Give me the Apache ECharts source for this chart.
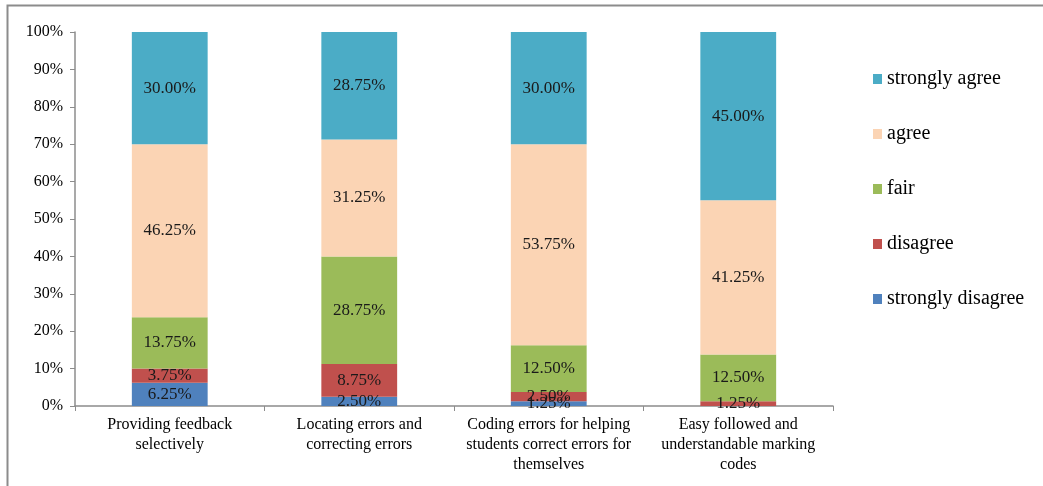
<!DOCTYPE html>
<html><head><meta charset="utf-8">
<script src="https://cdn.jsdelivr.net/npm/echarts@6/dist/echarts.min.js"></script>
<style>html,body{margin:0;padding:0;background:#fff}#c{width:1043px;height:486px}</style>
</head><body><div id="c"></div>
<script>
var categories = ['Providing feedback\nselectively','Locating errors and\ncorrecting errors','Coding errors for helping\nstudents correct errors for\nthemselves','Easy followed and\nunderstandable marking\ncodes'];
var seriesNames = ['strongly disagree','disagree','fair','agree','strongly agree'];
var stronglyDisagree = [6.25, 2.50, 1.25, 0];
var disagree = [3.75, 8.75, 2.50, 1.25];
var fair = [13.75, 28.75, 12.50, 12.50];
var agree = [46.25, 31.25, 53.75, 41.25];
var stronglyAgree = [30.00, 28.75, 30.00, 45.00];
var yTicks = [0,10,20,30,40,50,60,70,80,90,100];
var colors = ['#4F81BD','#C0504D','#9BBB59','#FBD4B4','#4BACC6'];
var values = [stronglyDisagree, disagree, fair, agree, stronglyAgree];
var font = '"Liberation Serif","Times New Roman",serif';
var chart = echarts.init(document.getElementById('c'));
var series = seriesNames.map(function(n,i){
  return {name:n,type:'bar',stack:'t',data:values[i],barWidth:'40%',
    itemStyle:{color:colors[i]},
    label:{show:true,position:'inside',color:'#1a1a1a',fontFamily:font,fontSize:17,
      formatter:function(p){return p.value>0?p.value.toFixed(2)+'%':'';}}};
});
chart.setOption({
  animation:false,
  graphic:[{type:'rect',shape:{x:7.5,y:5.5,width:1100,height:600},style:{fill:'none',stroke:'#8c8c8c',lineWidth:2},z:-1}],
  grid:{left:75,right:210,top:32,bottom:80},
  legend:{orient:'vertical',left:868,top:64,itemGap:35,itemWidth:9,itemHeight:10,icon:'rect',
    data:seriesNames.slice().reverse(),
    textStyle:{fontFamily:font,fontSize:20,color:'#000'}},
  xAxis:{type:'category',data:categories,
    axisLine:{lineStyle:{color:'#8c8c8c',width:1.5}},
    axisTick:{show:true,alignWithLabel:false,length:5,lineStyle:{color:'#8c8c8c'}},
    axisLabel:{fontFamily:font,fontSize:16,color:'#000',lineHeight:20,margin:9,interval:0}},
  yAxis:{type:'value',min:0,max:100,interval:10,
    axisLine:{show:true,lineStyle:{color:'#8c8c8c',width:1.5}},
    axisTick:{show:true,length:5,lineStyle:{color:'#8c8c8c'}},
    splitLine:{show:false},
    axisLabel:{fontFamily:font,fontSize:16,color:'#000',margin:12,
      formatter:function(v){return yTicks.indexOf(v)>=0?v+'%':'';}}},
  series:series
});
</script></body></html>
